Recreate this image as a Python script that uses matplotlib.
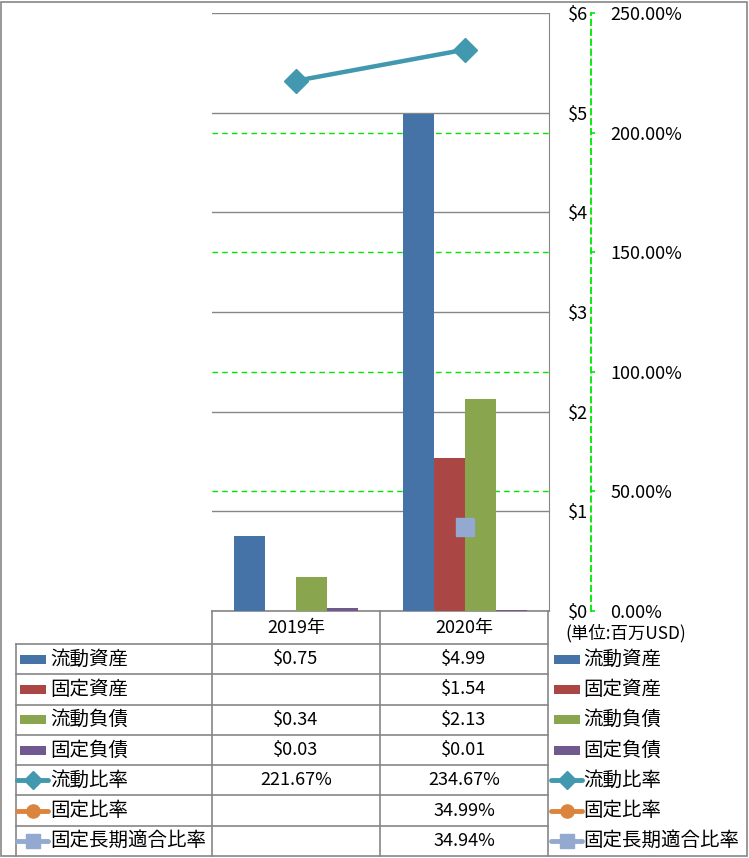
import numpy as np
import matplotlib.pyplot as plt
from matplotlib.patches import Rectangle
from matplotlib.ticker import FuncFormatter

plt.rcParams['font.family'] = ['Noto Sans CJK JP', 'DejaVu Sans']

# data
years = ['2019年', '2020年']
bar_names = ['流動資産', '固定資産', '流動負債', '固定負債']
current_assets = [0.75, 4.99]
fixed_assets = [np.nan, 1.54]
current_liab = [0.34, 2.13]
fixed_liab = [0.03, 0.01]

line_names = ['流動比率', '固定比率', '固定長期適合比率']
current_ratio = [221.67, 234.67]
fixed_ratio = [np.nan, 34.99]
fixed_long_ratio = [np.nan, 34.94]

dollar_ticks = [0, 1, 2, 3, 4, 5, 6]
pct_ticks = [0, 50, 100, 150, 200, 250]

bar_colors = ['#4572A7', '#AA4643', '#89A54E', '#71588F']
line_colors = ['#4198AF', '#DB843D', '#93A9CF']
line_markers = ['D', 'o', 's']

W, H = 749, 858
GRAY = '#868686'
GREEN = '#00E600'
FS = 12.5

fig = plt.figure(figsize=(W / 100, H / 100), dpi=100)


def box(x0, y0, x1, y1):
    # pixel box (top-left origin) -> figure fraction rect
    return [x0 / W, 1 - y1 / H, (x1 - x0) / W, (y1 - y0) / H]


# overlay for frame and table
tab = fig.add_axes([0, 0, 1, 1], zorder=0)
tab.set_xlim(0, W)
tab.set_ylim(H, 0)
tab.axis('off')

ax = fig.add_axes(box(212, 13, 549, 611), zorder=2)
ax.patch.set_visible(False)
# percent axis, sits behind the bars
ax2 = ax.twinx()
ax2.set_zorder(1)
# ratio lines on top
ax3 = ax.twinx()
ax3.set_zorder(3)
ax3.patch.set_visible(False)

x = np.arange(len(years))
bw = 31 / 168
bar_series = [current_assets, fixed_assets, current_liab, fixed_liab]
for i, vals in enumerate(bar_series):
    ax.bar(x + (i - 1.5) * bw, vals, bw, color=bar_colors[i], zorder=3)

ax.set_xlim(-0.5, 1.5)
ax.set_ylim(0, 6)
ax.set_yticks(dollar_ticks)
ax.set_yticklabels(['$%d' % v for v in dollar_ticks])
ax.grid(axis='y', color=GRAY, lw=1)
ax.set_axisbelow(True)
ax.set_xticks([])
ax.yaxis.tick_right()
ax.tick_params(axis='y', length=0, pad=28, labelsize=FS + 0.5)
for lab in ax.get_yticklabels():
    lab.set_horizontalalignment('right')
for s in ['top', 'left', 'bottom']:
    ax.spines[s].set_visible(False)
ax.spines['right'].set_color(GRAY)
ax.spines['right'].set_zorder(5)

ax2.set_ylim(0, 250)
ax2.set_yticks(pct_ticks)
ax2.yaxis.set_major_formatter(FuncFormatter(lambda v, p: '%.2f%%' % v))
for p in pct_ticks[1:-1]:
    ax2.axhline(p, color=GREEN, lw=1, ls=(0, (4, 3)))
ax2.tick_params(axis='y', length=3, width=1.2, color=GREEN, pad=11, labelsize=FS + 0.5)
for s in ['top', 'left', 'bottom']:
    ax2.spines[s].set_visible(False)
ax2.spines['right'].set_position(('outward', 30))
ax2.spines['right'].set_color(GREEN)
ax2.spines['right'].set_linewidth(1.3)
ax2.spines['right'].set_linestyle((0, (3, 2.5)))

ax3.set_ylim(0, 250)
ax3.axis('off')
ax3.plot(x, current_ratio, color=line_colors[0], lw=3.2, marker='D', ms=12.5, zorder=3)
ax3.plot(x, fixed_ratio, color=line_colors[1], lw=3.2, marker='o', ms=11, zorder=4)
ax3.plot(x, fixed_long_ratio, color=line_colors[2], lw=3.2, marker='s', ms=13, zorder=5)

fig.text(565 / W, 1 - 633 / H, '(単位:百万USD)', fontsize=12.5, va='center', ha='left')

# frame
tab.add_patch(Rectangle((1, 2), 746, 854, fill=False, ec=GRAY, lw=1.2))

# table grid
row_top = 644
row_h = (856 - row_top) / 7
col_x = [16, 212, 380, 548]
tab.plot([212, 548], [611, 611], color=GRAY, lw=1.2)
for cx in col_x[1:]:
    tab.plot([cx, cx], [611, 856], color=GRAY, lw=1.2)
tab.plot([16, 16], [row_top, 856], color=GRAY, lw=1.2)
for r in range(7):
    yy = row_top + r * row_h
    tab.plot([16, 548], [yy, yy], color=GRAY, lw=1.2)

for j, yr in enumerate(years):
    tab.text((col_x[j + 1] + col_x[j + 2]) / 2, 628, yr, fontsize=FS + 0.5, ha='center', va='center')

names = bar_names + line_names
rows = bar_series + [current_ratio, fixed_ratio, fixed_long_ratio]
for r, (name, vals) in enumerate(zip(names, rows)):
    yc = row_top + (r + 0.5) * row_h
    for j, v in enumerate(vals):
        if np.isnan(v):
            continue
        txt = '$%.2f' % v if r < 4 else '%.2f%%' % v
        tab.text((col_x[j + 1] + col_x[j + 2]) / 2, yc, txt, fontsize=FS + 0.5, ha='center', va='center')
    # legend keys, left and right
    for kx, tx in [(20, 50), (554, 583)]:
        if r < 4:
            tab.add_patch(Rectangle((kx, yc - 4.5), 26, 9, color=bar_colors[r], lw=0))
        else:
            k = r - 4
            tab.plot([kx - 3, kx + 28], [yc, yc], color=line_colors[k], lw=3.5, solid_capstyle='round')
            ms = [9.5, 9.5, 9.5][k]
            tab.plot([kx + 13], [yc], marker=line_markers[k], color=line_colors[k], ms=ms)
        tab.text(tx, yc, name, fontsize=14, ha='left', va='center')

fig.savefig('out.png', dpi=100)
